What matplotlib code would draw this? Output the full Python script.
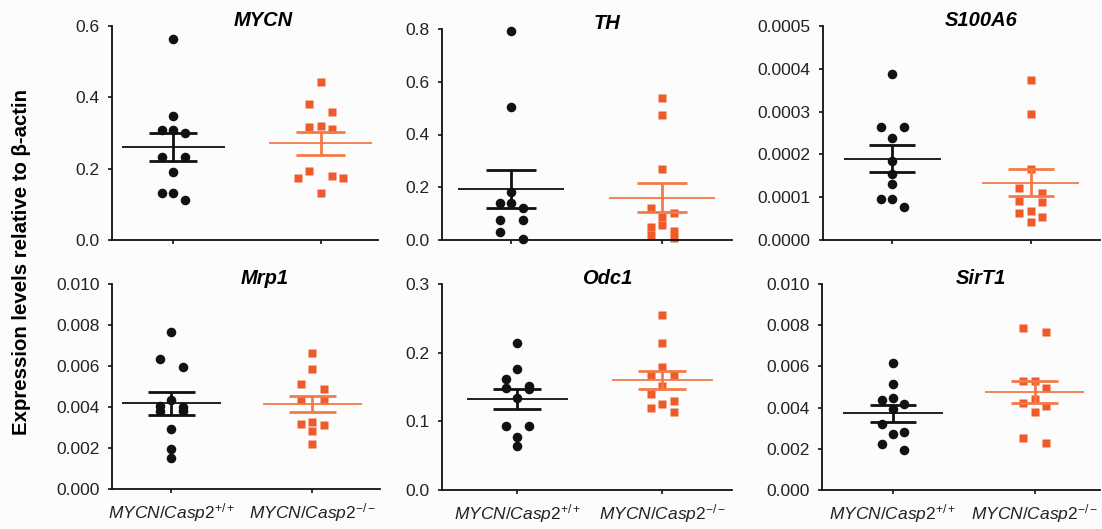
import numpy as np
import matplotlib
matplotlib.use("Agg")
import matplotlib.pyplot as plt

plt.rcParams["font.family"] = ["Liberation Sans", "DejaVu Sans"]
plt.rcParams["mathtext.fontset"] = "custom"
plt.rcParams["mathtext.rm"] = "Liberation Sans"
plt.rcParams["mathtext.it"] = "Liberation Sans:italic"
plt.rcParams["mathtext.bf"] = "Liberation Sans:bold"

genes = ["MYCN", "TH", "S100A6", "Mrp1", "Odc1", "SirT1"]
group_labels = [r"$\mathit{MYCN/Casp2}^{\mathit{+/+}}$", r"$\mathit{MYCN/Casp2}^{\mathit{-/-}}$"]

# values (relative to beta-actin)
wt_mycn = [0.564, 0.348, 0.308, 0.308, 0.299, 0.232, 0.232, 0.192, 0.133, 0.133, 0.111]
ko_mycn = [0.444, 0.380, 0.360, 0.321, 0.316, 0.311, 0.194, 0.179, 0.173, 0.173, 0.133]
wt_th = [0.792, 0.505, 0.182, 0.142, 0.142, 0.123, 0.076, 0.076, 0.032, 0.003]
ko_th = [0.537, 0.475, 0.270, 0.120, 0.104, 0.089, 0.057, 0.048, 0.035, 0.019, 0.006]
wt_s100a6 = [0.000389, 0.000265, 0.000265, 0.000239, 0.000185, 0.000154, 0.000131,
             0.0000958, 0.0000958, 0.0000779]
ko_s100a6 = [0.000374, 0.000295, 0.000167, 0.000121, 0.000109, 0.0000903, 0.000088,
             0.000067, 0.0000639, 0.0000537, 0.0000428]
wt_mrp1 = [0.00768, 0.00636, 0.00597, 0.00435, 0.00403, 0.00398, 0.00381, 0.00381,
           0.00292, 0.00193, 0.00151]
ko_mrp1 = [0.00661, 0.00583, 0.00513, 0.00490, 0.00435, 0.00435, 0.00325, 0.00315,
           0.00310, 0.00284, 0.00219]
wt_odc1 = [0.2146, 0.1762, 0.162, 0.151, 0.149, 0.147, 0.134, 0.0932, 0.0932, 0.0772, 0.064]
ko_odc1 = [0.255, 0.2146, 0.1786, 0.168, 0.168, 0.152, 0.140, 0.129, 0.125, 0.119, 0.114]
wt_sirt1 = [0.00618, 0.00515, 0.00445, 0.00437, 0.00416, 0.00393, 0.00319, 0.00283,
            0.00270, 0.00222, 0.00194]
ko_sirt1 = [0.00788, 0.00769, 0.00531, 0.00531, 0.00494, 0.00440, 0.00421, 0.00409,
            0.00377, 0.00251, 0.00230]

wt_mean = [0.261, 0.195, 0.000190, 0.00419, 0.132, 0.00372]
wt_sem = [0.039, 0.072, 0.0000315, 0.00056, 0.0145, 0.0004]
ko_mean = [0.271, 0.161, 0.000134, 0.00414, 0.160, 0.00476]
ko_sem = [0.032, 0.056, 0.000032, 0.0004, 0.013, 0.00055]

y_max = [0.6, 0.8, 0.0005, 0.010, 0.3, 0.010]
y_step = [0.2, 0.2, 0.0001, 0.002, 0.1, 0.002]
y_fmt = ["%.1f", "%.1f", "%.4f", "%.3f", "%.1f", "%.3f"]

wt_data = [wt_mycn, wt_th, wt_s100a6, wt_mrp1, wt_odc1, wt_sirt1]
ko_data = [ko_mycn, ko_th, ko_s100a6, ko_mrp1, ko_odc1, ko_sirt1]

W, H = 1102, 529
# axes boxes in pixels: left, right, top, bottom ; x limits
boxes = [(112, 378, 26, 240), (442, 732, 29, 240), (823, 1100, 26, 240),
         (112, 380, 284, 489), (442, 732, 284, 490), (822, 1100, 284, 490)]
xlims = [(0.585, 2.39), (0.543, 2.46), (0.50, 2.50),
         (0.58, 2.48), (0.48, 2.48), (0.50, 2.46)]

BLACK = "#111111"
ORANGE = "#EF5A2A"
ORANGE_LINE = "#F47A48"
DOT_PX = 9.5


def swarm_offsets(vals, px_per_y, px_per_x):
    # group points of similar height into rows, spread each row around the centre
    order = np.argsort(vals)[::-1]
    offs = np.zeros(len(vals))
    rows = []
    for i in order:
        if rows and abs(vals[rows[-1][0]] - vals[i]) * px_per_y < DOT_PX * 0.85:
            rows[-1].append(i)
        else:
            rows.append([i])
    step = DOT_PX * 1.2 / px_per_x
    for row in rows:
        n = len(row)
        if n % 2:
            slots = [0] + [s * k for k in range(1, n // 2 + 1) for s in (-1, 1)]
        else:
            slots = [s * k for k in range(1, n // 2 + 1) for s in (-1, 1)]
        for k, i in enumerate(row):
            offs[i] = slots[k] * step
    return offs


fig = plt.figure(figsize=(W / 100, H / 100), dpi=100)
fig.patch.set_facecolor("#fcfcfd")

for p in range(6):
    l, r, t, b = boxes[p]
    ax = fig.add_axes([l / W, 1 - b / H, (r - l) / W, (b - t) / H])
    ax.set_facecolor("#fcfcfd")
    x0, x1 = xlims[p]
    ax.set_xlim(x0, x1)
    ax.set_ylim(0, y_max[p])
    px_y = (b - t) / y_max[p]
    px_x = (r - l) / (x1 - x0)

    for g, (vals, mean, sem, col, lcol, mk, ms) in enumerate([
            (wt_data[p], wt_mean[p], wt_sem[p], BLACK, BLACK, "o", 6.9),
            (ko_data[p], ko_mean[p], ko_sem[p], ORANGE, ORANGE_LINE, "s", 6.0)]):
        xc = g + 1
        v = np.array(vals)
        xs = xc + swarm_offsets(v, px_y, px_x)
        ax.plot(xs, v, ls="none", marker=mk, ms=ms, color=col, mec="none",
                zorder=2, clip_on=False)
        ax.hlines(mean, xc - 0.35, xc + 0.35, color=lcol, lw=1.3, zorder=3)
        ax.vlines(xc, mean - sem, mean + sem, color=lcol, lw=2.0, zorder=3)
        ax.hlines([mean - sem, mean + sem], xc - 0.165, xc + 0.165, color=lcol, lw=2.0, zorder=3)

    for s in ["top", "right"]:
        ax.spines[s].set_visible(False)
    for s in ["left", "bottom"]:
        ax.spines[s].set_linewidth(1.3)
        ax.spines[s].set_color(BLACK)

    yt = np.arange(0, y_max[p] + y_step[p] / 2, y_step[p])
    ax.set_yticks(yt)
    ax.set_yticklabels([y_fmt[p] % v for v in yt], fontsize=12.5, color="#222222")
    ax.set_xticks([1, 2])
    if p >= 3:
        ax.set_xticklabels(group_labels, fontsize=12.5, color="#222222")
    else:
        ax.set_xticklabels(["", ""])
    ax.tick_params(axis="both", length=3, width=1.2, color=BLACK)
    ax.tick_params(axis="y", pad=6)
    ax.tick_params(axis="x", pad=6)

    ax.text(0.57, 1.0 + 6 / (b - t), genes[p], transform=ax.transAxes,
            ha="center", va="center", fontsize=14.5, fontweight="bold", fontstyle="italic")

fig.text(22 / W, 1 - 262 / H, "Expression levels relative to \u03b2-actin",
         rotation=90, ha="center", va="center", fontsize=14.7, fontweight="bold")

fig.savefig("out.png", dpi=100, facecolor=fig.get_facecolor())
